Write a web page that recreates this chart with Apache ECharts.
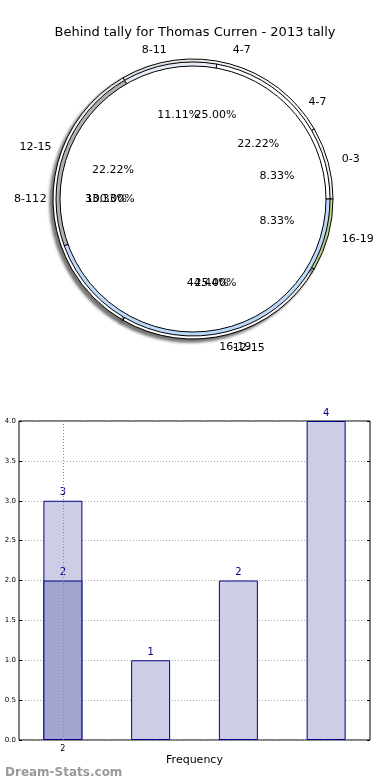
<!DOCTYPE html>
<html>
<head>
<meta charset="utf-8">
<script src="https://cdn.jsdelivr.net/npm/echarts@6/dist/echarts.min.js"></script>
<style>
html,body{margin:0;padding:0;background:#fff;}
#chart{width:390px;height:780px;}
</style>
</head>
<body>
<div id="chart"></div>
<script>
// ---- data ----
var chartTitle = 'Behind tally for Thomas Curren - 2013 tally';
var pieALabels = ['0-3', '4-7', '8-11', '12-15', '16-19'];
var pieAValues = [1, 3, 4, 3, 1];
var pieAColors = ['#ffffff', '#ffffff', '#ffffff', '#ffffff', '#d6ec9c'];
var pieBLabels = ['4-7', '8-11', '12-15', '16-19'];
var pieBValues = [2, 1, 2, 4];
var pieBColors = ['#ffffff', '#e6edf8', '#b0b0b0', '#bdd8fb'];
var pieCLabels = ['2'];
var pieCValues = [1];
var pieCColors = ['#ffffff'];

var barCategories = ['2', '', '', ''];
var barLightValues = [3, 1, 2, 4];
var barDarkValues = [2, null, null, null];

// ---- build ----
var FONT = 'DejaVu Sans';
var center = [193, 199];

function toData(labels, values, colors) {
  return labels.map(function (l, i) {
    return { name: l, value: values[i], itemStyle: { color: colors[i] } };
  });
}

function pieSeries(labels, values, colors, R, shadow) {
  var total = values.reduce(function (a, b) { return a + b; }, 0);
  var item = { borderColor: '#000', borderWidth: 1 };
  if (shadow) {
    item.shadowColor = 'rgba(0,0,0,0.55)';
    item.shadowBlur = 3;
    item.shadowOffsetX = -3;
    item.shadowOffsetY = 3;
  }
  return [{
    type: 'pie', center: center, radius: [0, R],
    startAngle: 0, clockwise: false, avoidLabelOverlap: false,
    silent: true, animation: false,
    labelLayout: { hideOverlap: false },
    itemStyle: item,
    label: {
      show: true, position: 'outside', color: '#000', fontSize: 11, fontFamily: FONT,
      formatter: '{b}', distanceToLabelLine: 0
    },
    labelLine: { show: false, length: R * 0.1, length2: 0 },
    data: toData(labels, values, colors)
  }, {
    type: 'pie', center: center, radius: [0, R * 1.2],
    startAngle: 0, clockwise: false, avoidLabelOverlap: false,
    silent: true, animation: false,
    labelLayout: { hideOverlap: false },
    itemStyle: { color: 'rgba(0,0,0,0)', borderWidth: 0 },
    label: {
      show: true, position: 'inside', color: '#000', fontSize: 11, fontFamily: FONT,
      formatter: function (p) { return (p.value / total * 100).toFixed(2) + '%'; }
    },
    labelLine: { show: false },
    data: labels.map(function (l, i) { return { name: l, value: values[i] }; })
  }];
}

var series = [];
series = series.concat(pieSeries(pieALabels, pieAValues, pieAColors, 140, true));
series = series.concat(pieSeries(pieBLabels, pieBValues, pieBColors, 137, false));
series = series.concat(pieSeries(pieCLabels, pieCValues, pieCColors, 133, false));

series.push({
  type: 'bar', xAxisIndex: 0, yAxisIndex: 0,
  data: barLightValues, barWidth: 39, barGap: '-100%',
  itemStyle: { color: '#cdcde5', borderColor: '#00008b', borderWidth: 1 },
  label: { show: true, position: 'top', color: '#00008b', fontSize: 10, fontFamily: FONT, distance: 3 },
  markLine: {
    silent: true, symbol: 'none', animation: false,
    label: { show: false },
    lineStyle: { color: '#888', type: [1, 2], width: 1 },
    data: [{ xAxis: 0 }]
  },
  z: 2
});
series.push({
  type: 'bar', xAxisIndex: 0, yAxisIndex: 0,
  data: barDarkValues, barWidth: 39, barGap: '-100%',
  itemStyle: { color: '#a3a5d0', borderColor: '#00008b', borderWidth: 1 },
  label: { show: true, position: 'top', color: '#00008b', fontSize: 10, fontFamily: FONT, distance: 3 },
  z: 3
});

var option = {
  animation: false,
  backgroundColor: '#fff',
  title: [{
    text: chartTitle, left: 'center', top: 21,
    textStyle: { fontSize: 13, fontWeight: 'normal', color: '#000', fontFamily: FONT }
  }, {
    text: 'Dream-Stats.com', left: 0, top: 762,
    textStyle: { fontSize: 12, fontWeight: 'bold', color: '#999', fontFamily: FONT }
  }],
  grid: {
    left: 19, right: 20, top: 421, bottom: 40,
    show: true, borderColor: '#000', borderWidth: 1, backgroundColor: 'transparent'
  },
  xAxis: {
    type: 'category', data: barCategories,
    axisLine: { show: false },
    axisTick: { show: false },
    axisLabel: { color: '#000', fontSize: 8, fontFamily: FONT, margin: 5, interval: 0 },
    splitLine: { show: false },
    name: 'Frequency', nameLocation: 'middle', nameGap: 15,
    nameTextStyle: { color: '#000', fontSize: 11, fontFamily: FONT }
  },
  yAxis: [{
    type: 'value', min: 0, max: 4, interval: 0.5,
    axisLine: { show: false },
    axisTick: { show: true, inside: true, length: 3, lineStyle: { color: '#000' } },
    axisLabel: {
      color: '#000', fontSize: 7, fontFamily: FONT, margin: 3,
      formatter: function (v) { return v.toFixed(1); }
    },
    splitLine: { show: true, lineStyle: { color: '#aaa', type: [1, 2], width: 1 } }
  }, {
    type: 'value', min: 0, max: 4, interval: 0.5, position: 'right',
    axisLine: { show: false },
    axisTick: { show: true, inside: true, length: 3, lineStyle: { color: '#000' } },
    axisLabel: { show: false },
    splitLine: { show: false }
  }],
  series: series
};

var chart = echarts.init(document.getElementById('chart'), null, { renderer: 'canvas' });
chart.setOption(option);
</script>
</body>
</html>
